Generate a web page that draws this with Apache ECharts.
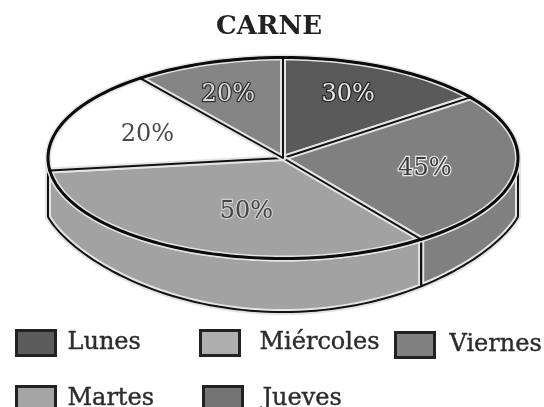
<!DOCTYPE html>
<html>
<head>
<meta charset="utf-8">
<style>
  html, body { margin: 0; background: #fff; }
  #chart { width: 544px; height: 407px; filter: blur(0.6px); }
</style>
</head>
<body>
<div id="chart"></div>
<script src="https://cdn.jsdelivr.net/npm/echarts@6/dist/echarts.min.js"></script>
<script>
const days = ['Lunes', 'Viernes', 'Martes', 'Miércoles', 'Jueves']
const percentLabels = [30, 45, 50, 20, 20]
// the drawn slices are not proportional to their labels, so these are read off the picture
const sliceShares = [14.7, 25.3, 33, 16.6, 10.4]

const sliceColors = ['#5a5a5a', '#808080', '#a2a2a2', '#ffffff', '#858585']
const swatchColors = ['#5c5c5c', '#808080', '#a4a4a4', '#aeaeae', '#747474']

const CX = 283, CY = 158, RX = 235, RY = 100.5
const labelRadius = [0.71, 0.61, 0.54, 0.63, 0.69]
const labelAngleShift = [-3.5, 0, -6.6, 1, -1]
const labelStyles = [
  { fill: '#e8e8e8', stroke: '#262626' },
  { fill: '#3c3c3c', stroke: '#e6e6e6' },
  { fill: '#444', stroke: '#cfcfcf' },
  { fill: '#4a4a4a', stroke: '#fff' },
  { fill: '#dcdcdc', stroke: '#303030' },
]

function topPoint(deg, r = 1) {
  const a = deg * Math.PI / 180
  return [CX + RX * r * Math.sin(a), CY - RY * r * Math.cos(a)]
}

function wallBottom(x) {
  const u = Math.min(1, Math.abs(x - CX) / 238)
  return 209 + 103 * Math.pow(1 - u * u, 0.7)
}

function arc(from, to) {
  const pts = []
  const steps = Math.max(2, Math.ceil(Math.abs(to - from) / 2))
  for (let i = 0; i <= steps; i++) pts.push(topPoint(from + (to - from) * i / steps))
  return pts
}

// light rim under a dark line, like the bevel on the original
function bevelled(points, fill, z2) {
  return [
    { type: 'polygon', z2, shape: { points }, style: { fill, stroke: '#e4e4e4', lineWidth: 6, lineJoin: 'round' } },
    { type: 'polygon', z2: z2 + 1, shape: { points }, style: { fill: 'none', stroke: '#111', lineWidth: 2, lineJoin: 'round' } },
  ]
}

function renderSlice(params, api) {
  const i = params.seriesIndex
  const start = api.value(0) * 3.6
  const end = start + api.value(1) * 3.6
  const children = []

  // the little bit of wall left of the Martes slice is merged into it
  const wallFrom = Math.max(start, 90)
  const wallTo = end > 250 ? 270 : end
  if (start < 250 && wallTo > wallFrom) {
    const top = arc(wallFrom, wallTo)
    const bottom = top.map(p => [p[0], wallBottom(p[0])]).reverse()
    children.push(...bevelled(top.concat(bottom), sliceColors[i], 1))
  }

  const rim = arc(start, end)
  children.push(...bevelled([[CX, CY]].concat(rim), sliceColors[i], 10 + i * 2))
  children.push({
    type: 'polyline',
    z2: 30,
    shape: { points: rim },
    style: { fill: 'none', stroke: '#0c0c0c', lineWidth: 3, lineCap: 'round' },
  })

  const mid = topPoint((start + end) / 2 + labelAngleShift[i], labelRadius[i])
  children.push({
    type: 'text',
    z2: 40,
    style: {
      text: api.value(2) + '%',
      x: mid[0],
      y: mid[1] + 2,
      align: 'center',
      verticalAlign: 'middle',
      font: '24px "DejaVu Serif"',
      fill: labelStyles[i].fill,
      stroke: labelStyles[i].stroke,
      lineWidth: 2.5,
    },
  })
  return { type: 'group', children }
}

let running = 0
const series = days.map((name, i) => {
  const item = [running, sliceShares[i], percentLabels[i]]
  running += sliceShares[i]
  return {
    name,
    type: 'custom',
    coordinateSystem: 'none',
    silent: true,
    renderItem: renderSlice,
    itemStyle: { color: sliceColors[i] },
    data: [item],
  }
})

function swatchLegend(name, left, top, textGap) {
  return {
    left,
    top,
    selectedMode: false,
    itemWidth: 39,
    itemHeight: 25,
    itemGap: 0,
    data: [{
      name,
      icon: 'rect',
      itemStyle: { color: swatchColors[days.indexOf(name)], borderColor: '#222', borderWidth: 3 },
    }],
    textStyle: {
      fontFamily: 'DejaVu Serif',
      fontSize: 24,
      color: '#2c2c2c',
      textBorderColor: '#2c2c2c',
      textBorderWidth: 0.4,
      padding: [0, 0, 0, textGap],
    },
  }
}

const chart = echarts.init(document.getElementById('chart'))
chart.setOption({
  animation: false,
  title: {
    text: 'CARNE',
    left: 264,
    top: 9,
    textAlign: 'center',
    textStyle: { fontFamily: 'DejaVu Serif', fontSize: 26, fontWeight: 'bold', color: '#222' },
  },
  legend: [
    swatchLegend('Lunes', 10, 324, 7),
    swatchLegend('Miércoles', 194, 324, 15),
    swatchLegend('Viernes', 389, 326, 10),
    swatchLegend('Martes', 10, 380, 7),
    swatchLegend('Jueves', 197, 380, 15),
  ],
  series,
})
</script>
</body>
</html>
